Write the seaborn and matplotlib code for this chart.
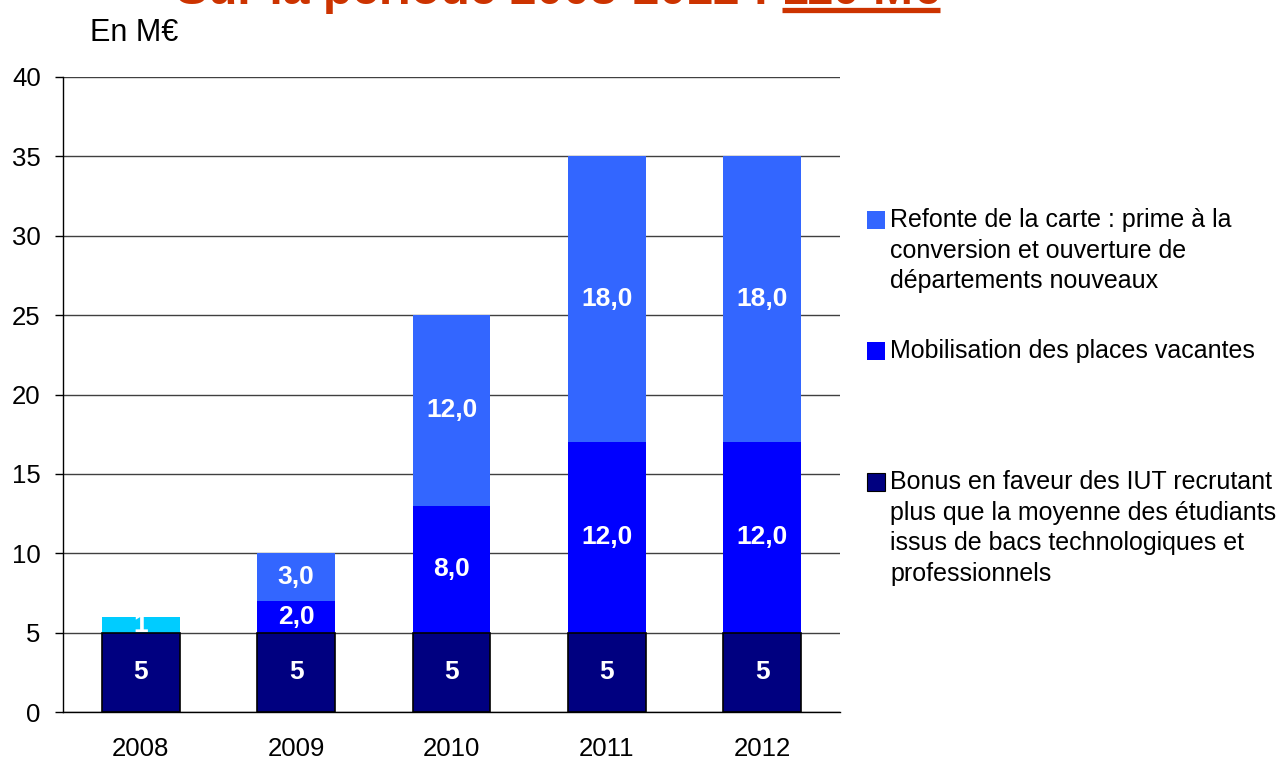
import matplotlib
matplotlib.use("Agg")
import matplotlib.pyplot as plt
import seaborn as sns
import numpy as np
import pandas as pd
from matplotlib.patches import Rectangle
from matplotlib.lines import Line2D
from matplotlib import font_manager as fm

# ---- data ----
years = ["2008", "2009", "2010", "2011", "2012"]
bonus = [5, 5, 5, 5, 5]
extra_2008 = [1, 0, 0, 0, 0]
mobilisation = [0, 2, 8, 12, 12]
refonte = [0, 3, 12, 18, 18]

legend_labels = [
    "Refonte de la carte : prime à la\nconversion et ouverture de\ndépartements nouveaux",
    "Mobilisation des places vacantes",
    "Bonus en faveur des IUT recrutant\nplus que la moyenne des étudiants\nissus de bacs technologiques et\nprofessionnels",
]
title_main = "Sur la période 2008-2012 : "
title_total = "110 M€"
unit_label = "En M€"
y_ticks = [0, 5, 10, 15, 20, 25, 30, 35, 40]

c_bonus = "#000080"
c_extra = "#00CCFF"
c_mob = "#0000FF"
c_ref = "#3366FF"

sns.set_style("white")
plt.rcParams["font.family"] = ["Liberation Sans", "DejaVu Sans"]


def find_font(fname_part, fallback_weight):
    for f in fm.fontManager.ttflist:
        if f.fname.endswith(fname_part):
            return fm.FontProperties(fname=f.fname)
    return fm.FontProperties(family=["Liberation Sans", "DejaVu Sans"], weight=fallback_weight)


bold_fp = find_font("LiberationSans-Bold.ttf", "bold")

fig = plt.figure(figsize=(12.79, 7.6), dpi=100)
ax = fig.add_axes([63 / 1279, 1 - 712 / 760, (840 - 63) / 1279, (712 - 77) / 760])

layers = [
    (bonus, c_bonus, "{:.0f}", True),
    (extra_2008, c_extra, "{:.0f}", False),
    (mobilisation, c_mob, "{:.1f}", False),
    (refonte, c_ref, "{:.1f}", False),
]
vals = np.array([l[0] for l in layers], dtype=float)
cum = np.cumsum(vals, axis=0)

# draw from the top layer (totals) down so lower layers overlay
for i in range(len(layers) - 1, -1, -1):
    df = pd.DataFrame({"year": years, "value": cum[i]})
    edge = layers[i][3]
    sns.barplot(data=df, x="year", y="value", color=layers[i][1], saturation=1,
                width=0.5, errorbar=None, ax=ax,
                edgecolor="black" if edge else "none", linewidth=1.2 if edge else 0,
                zorder=2)

# value labels
for i, (v, col, fmt, _) in enumerate(layers):
    bottoms = cum[i] - vals[i]
    for j, val in enumerate(v):
        if val > 0:
            txt = fmt.format(val).replace(".", ",")
            ax.text(j, bottoms[j] + val / 2, txt, ha="center", va="center",
                    color="white", fontproperties=bold_fp, fontsize=19, zorder=5)

ax.set_xlim(-0.5, len(years) - 0.5)
ax.set_ylim(0, 40)
ax.set_yticks(y_ticks)
ax.set_xlabel("")
ax.set_ylabel("")
ax.set_axisbelow(True)
ax.yaxis.grid(True, color="#404040", linewidth=1)
ax.xaxis.grid(False)
for s in ["top", "right"]:
    ax.spines[s].set_visible(False)
for s in ["left", "bottom"]:
    ax.spines[s].set_color("black")
    ax.spines[s].set_linewidth(1)

ax.set_xticks(range(len(years)))
ax.set_xticklabels(years)
ax.set_xticks(np.arange(-0.5, len(years), 1.0), minor=True)
ax.tick_params(axis="x", which="major", length=0, pad=18, labelsize=18.5, colors="black")
ax.tick_params(axis="x", which="minor", length=6, width=1, direction="out", color="black")
ax.tick_params(axis="y", which="major", length=6, width=1, direction="out", pad=10,
               labelsize=18.5, colors="black", left=True)

# legend (manual, marker aligned with first line)
line_step = 30.7
legend_items = [(legend_labels[0], c_ref, 227), (legend_labels[1], c_mob, 358),
                (legend_labels[2], c_bonus, 489)]
for lab, col, base in legend_items:
    fig.patches.append(Rectangle((867 / 1279, 1 - (base + 2) / 760), 18 / 1279, 18 / 760,
                                 transform=fig.transFigure, facecolor=col,
                                 edgecolor="black" if col == c_bonus else "none",
                                 linewidth=0.8))
    for k, line in enumerate(lab.split("\n")):
        fig.text(890 / 1279, 1 - (base + k * line_step) / 760, line, ha="left",
                 va="baseline", fontsize=18.0, color="black")

fig.text(90 / 1279, 1 - 41 / 760, unit_label, fontsize=22, color="black", va="baseline")

# cut-off title
t1 = fig.text(176 / 1279, 1 - 4 / 760, title_main, fontproperties=bold_fp, fontsize=34.6,
              color="#CC3300", va="baseline", ha="left")
fig.canvas.draw()
bb = t1.get_window_extent()
t2 = fig.text(bb.x1 / 1279, 1 - 4 / 760, title_total, fontproperties=bold_fp, fontsize=34.6,
              color="#CC3300", va="baseline", ha="left")
fig.canvas.draw()
bb2 = t2.get_window_extent()
fig.lines.append(Line2D([bb2.x0 / 1279, bb2.x1 / 1279], [1 - 9.5 / 760, 1 - 9.5 / 760],
                        transform=fig.transFigure, color="#CC3300", linewidth=3.8,
                        solid_capstyle="butt"))

fig.savefig("out.png", dpi=100)
